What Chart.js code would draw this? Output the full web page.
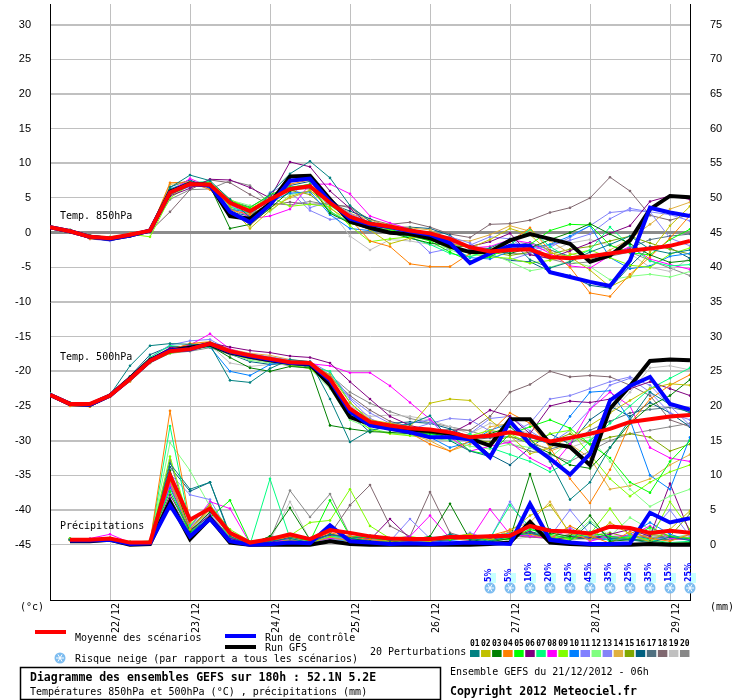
<!DOCTYPE html>
<html>
<head>
<meta charset="utf-8">
<title>Ensembles GEFS</title>
<script src="https://cdn.jsdelivr.net/npm/chart.js@4.4.0/dist/chart.umd.min.js"></script>
<style>
  body { margin: 0; background: #fff; }
</style>
</head>
<body>
<canvas id="gefsChart" width="740" height="700"></canvas>
<script>
// echeances (heures depuis le 21/12/2012 06h)
const hours = [0, 6, 12, 18, 24, 30, 36, 42, 48, 54, 60, 66, 72, 78, 84, 90, 96,
  102, 108, 114, 120, 126, 132, 138, 144, 150, 156, 162, 168, 174, 180, 186, 192];
const dayTicks = [18, 42, 66, 90, 114, 138, 162, 186];
const dayLabels = ['22/12', '23/12', '24/12', '25/12', '26/12', '27/12', '28/12', '29/12'];
const tempTicks = [-45, -40, -35, -30, -25, -20, -15, -10, -5, 0, 5, 10, 15, 20, 25, 30];
const precipTicks = [0, 5, 10, 15, 20, 25, 30, 35, 40, 45, 50, 55, 60, 65, 70, 75];

const memberColors = ['#008080', '#c0c000', '#008000', '#ff8000', '#00ff00', '#800080', '#00ff80',
  '#ff00ff', '#80ff00', '#0080ff', '#8080ff', '#80ff80', '#8484f8', '#e0b040', '#80a800',
  '#006080', '#507080', '#806870', '#c0c0c0', '#888888'];

// Temperature 850hPa
const t850Mean = [0.8, 0.2, -0.6, -0.8, -0.3, 0.3, 5.8, 7.0, 6.9, 4.3, 3.1, 4.8, 6.3, 6.7, 4.3, 2.3, 1.3,
  0.9, 0.3, -0.1, -0.9, -2.1, -2.7, -2.5, -2.4, -3.5, -3.7, -3.4, -3.0, -2.6, -2.3, -1.9, -1.2];
const t850Control = [0.8, 0.2, -0.6, -0.9, -0.4, 0.3, 5.8, 7.0, 6.8, 3.0, 1.5, 4.0, 7.5, 7.8, 4.5, 2.0, 1.2,
  0.8, 0.2, -0.3, -1.5, -4.4, -3.0, -1.9, -1.9, -5.7, -6.4, -7.1, -7.7, -4.0, 3.6, 2.9, 2.4];
const t850Gfs = [0.8, 0.2, -0.6, -0.9, -0.4, 0.3, 5.9, 7.1, 6.9, 2.4, 2.0, 4.2, 8.1, 8.2, 4.8, 1.6, 0.7,
  0.0, -0.2, -0.8, -2.0, -2.8, -2.8, -1.1, -0.2, -0.9, -1.6, -4.2, -3.3, -1.1, 3.4, 5.3, 5.1];
const t850Members = [
  [0.7, 0.1, -0.5, -0.9, -0.4, 0.5, 6.5, 8.3, 7.5, 4.8, 2.2, 5.6, 8.5, 10.3, 7.9, 3.9, 1.6, 0.8, 0.6, -0.3, -1.8, -3.0, -2.2, -1.0, -3.9, -5.1, -4.2, -2.8, -1.7, -0.5, -2.4, -3.0, -2.5],
  [0.9, 0.3, -0.7, -0.9, -0.2, 0.2, 5.5, 6.8, 7.2, 3.8, 0.6, 3.2, 5.2, 6.1, 3.5, 1.7, 0.4, -1.6, -0.8, -0.2, -1.5, -2.2, -1.0, 0.6, -0.3, -2.9, -3.5, -5.4, -7.8, -6.4, -2.8, 1.0, 3.8],
  [0.8, 0.4, -0.5, -0.7, -0.5, 0.4, 6.2, 7.1, 6.7, 0.6, 1.2, 3.5, 6.0, 6.8, 2.8, 1.4, 0.5, 0.0, -0.8, -1.5, -1.9, -2.0, -2.6, -3.0, -2.2, -1.0, 0.0, 1.3, -0.2, -1.6, -3.2, -4.3, -4.0],
  [0.8, 0.2, -0.9, -1.0, -0.1, 0.3, 7.2, 7.3, 6.2, 3.3, 2.6, 4.1, 7.0, 7.6, 4.8, 2.0, -1.2, -2.0, -4.5, -4.9, -4.9, -3.0, -2.4, -1.3, 0.7, -2.6, -5.0, -8.7, -9.2, -6.0, -3.5, -0.8, 2.5],
  [0.7, 0.3, -0.6, -0.7, -0.4, 0.1, 6.0, 7.0, 7.1, 4.5, 3.6, 5.5, 6.5, 7.0, 4.0, 2.0, 1.2, 0.5, -0.4, -1.2, -2.8, -4.1, -3.5, -2.0, -1.7, 0.3, 1.2, 1.1, -1.8, -2.9, -3.2, -1.0, 0.5],
  [0.8, 0.2, -0.6, -0.8, -0.3, 0.3, 5.3, 6.4, 7.7, 7.6, 6.5, 5.0, 10.2, 9.5, 6.0, 3.5, 1.0, 0.6, 0.4, -0.3, -1.0, -2.0, -1.3, -0.1, -3.2, -3.7, -2.6, -1.5, -0.1, 1.0, 4.5, 5.3, 4.8],
  [0.7, 0.3, -0.5, -0.8, -0.3, 0.2, 5.8, 7.2, 7.4, 3.7, 2.8, 5.0, 6.6, 6.9, 3.0, 1.5, 1.0, 0.2, -0.7, -1.7, -3.0, -3.5, -2.4, -1.8, 0.5, -2.0, -3.8, -2.5, 0.8, -1.9, -4.1, -4.8, -4.6],
  [0.8, 0.2, -0.6, -0.9, -0.3, 0.4, 5.9, 7.8, 6.6, 4.4, 2.0, 2.4, 3.4, 7.0, 7.0, 5.6, 2.4, 1.4, 0.5, -0.5, -1.4, -2.2, -2.0, -1.0, -1.5, -3.0, -4.8, -5.1, -3.3, -2.0, -3.8, -4.6, -5.3],
  [0.9, 0.3, -0.4, -0.6, -0.2, -0.6, 5.0, 6.9, 7.3, 4.8, 3.4, 5.2, 3.8, 4.1, 3.7, 1.0, -1.3, -0.9, -0.6, -1.0, -2.3, -3.0, -3.5, -3.7, -4.4, -4.0, -3.2, -2.5, -3.6, -4.7, -5.0, -3.1, -2.2],
  [0.7, 0.1, -0.7, -0.9, -0.4, 0.3, 6.3, 7.4, 6.5, 3.4, 2.9, 4.5, 5.7, 5.9, 2.6, 0.6, 0.3, 0.1, -0.4, -1.0, -2.1, -3.6, -3.8, -2.7, -2.2, -1.7, -0.5, 1.0, -3.6, -5.2, -4.8, -3.4, -3.0],
  [0.8, 0.2, -0.9, -1.2, -0.5, 0.2, 6.1, 6.7, 6.8, 4.0, 2.5, 5.8, 7.2, 3.6, 4.5, 2.7, 1.5, 0.6, -0.2, -2.9, -2.3, -1.8, -0.6, -0.9, -2.6, -1.8, -1.1, -0.2, 2.0, 3.5, 3.0, 2.6, 1.7],
  [0.8, 0.3, -0.5, -0.7, -0.2, 0.2, 5.6, 6.9, 7.0, 4.7, 3.9, 3.0, 5.5, 6.0, 3.9, 1.9, 1.6, 0.5, -0.2, -0.9, -2.5, -3.4, -3.0, -4.2, -5.5, -5.0, -4.1, -4.9, -6.8, -6.3, -6.0, -6.4, -5.6],
  [0.8, 0.2, -0.6, -0.8, -0.4, 0.3, 5.7, 6.6, 7.1, 3.5, 2.3, 4.2, 5.9, 3.2, 1.9, 2.2, 1.2, 0.9, 0.5, -0.4, -0.6, -1.5, -3.4, -3.9, -3.0, -2.1, -0.7, 1.0, 2.9, 3.2, 3.0, -0.8, -1.9],
  [0.9, 0.3, -0.5, -0.7, -0.3, 0.3, 7.0, 7.1, 6.9, 4.1, 1.0, 3.6, 5.0, 6.0, 4.6, 2.8, 1.8, 1.1, 0.7, 0.4, -1.0, -1.2, -0.3, 1.0, 0.2, -1.2, -3.0, -3.8, -2.5, -0.9, 1.2, 3.4, 4.4],
  [0.8, 0.2, -0.5, -0.8, -0.3, 0.4, 5.4, 6.8, 6.7, 4.2, 3.2, 4.6, 6.1, 5.5, 3.1, 1.3, 0.8, 0.4, -0.5, -1.1, -1.8, -2.7, -2.8, -3.3, -2.8, -3.1, -2.4, -2.0, -1.2, -0.5, -1.5, -2.4, -3.1],
  [0.7, 0.1, -0.6, -0.9, -0.4, 0.3, 6.6, 7.6, 6.4, 3.0, 2.4, 4.3, 6.8, 7.4, 4.2, 3.1, 2.0, 0.7, 0.8, 0.6, -0.4, -2.4, -3.2, -4.0, -4.2, -5.6, -6.2, -7.6, -8.0, -4.8, -2.0, -2.2, -3.7],
  [0.8, 0.2, -0.7, -0.8, -0.3, 0.2, 6.1, 7.0, 7.1, 4.6, 3.7, 5.3, 6.4, 6.3, 5.0, 2.5, 1.4, 0.9, 0.2, 0.0, -1.3, -1.9, -2.5, -2.1, -1.4, -2.5, -3.4, -3.8, -3.0, -2.2, -1.0, -0.5, -0.2],
  [0.8, 0.3, -0.6, -0.9, -0.5, 0.2, 3.0, 6.2, 7.6, 7.2, 5.5, 4.0, 4.4, 4.1, 4.2, 3.6, 1.9, 1.2, 1.5, 0.8, -0.2, -0.7, 1.2, 1.3, 1.8, 2.9, 3.6, 5.0, 8.0, 6.0, 2.5, 1.8, 2.6],
  [0.8, 0.2, -0.6, -0.8, -0.3, 0.3, 5.6, 6.8, 6.5, 4.0, 2.6, 5.1, 6.0, 6.5, 3.3, -0.5, -2.5, -1.0, -1.2, -1.7, -2.3, -2.4, -2.5, -0.9, -1.8, -2.7, -1.5, -1.0, -1.8, -3.0, -5.0, -5.6, -3.6],
  [0.8, 0.3, -0.5, -0.8, -0.4, 0.3, 4.8, 6.2, 6.3, 7.5, 6.8, 4.2, 4.0, 4.5, 4.0, 3.8, 1.1, 0.7, 0.1, -0.6, -1.6, -2.0, -2.3, -3.0, -3.1, -3.8, -4.5, -4.2, -3.4, -2.8, -4.0, -5.1, -6.2]
];

// Temperature 500hPa
const t500Mean = [-23.4, -24.7, -24.7, -23.5, -21.1, -18.5, -17.1, -16.8, -16.0, -17.1, -17.7, -18.2, -18.7,
  -18.8, -21.1, -25.4, -27.3, -27.8, -28.2, -28.4, -28.8, -29.5, -29.3, -28.8, -29.3, -30.1, -29.6, -29.0,
  -28.3, -27.3, -26.9, -26.5, -26.3];
const t500Control = [-23.4, -24.7, -24.8, -23.5, -21.1, -18.5, -17.0, -16.8, -16.0, -17.2, -17.8, -18.3, -18.8,
  -18.9, -21.3, -25.8, -27.8, -28.3, -28.8, -29.5, -29.5, -29.8, -32.4, -27.2, -30.5, -32.6, -34.9, -31.9,
  -24.2, -22.1, -20.8, -24.7, -25.5];
const t500Gfs = [-23.4, -24.7, -24.8, -23.5, -21.0, -18.4, -17.0, -16.6, -16.1, -17.3, -17.9, -18.4, -18.8,
  -19.0, -22.0, -26.6, -27.6, -28.2, -28.5, -28.6, -29.0, -29.7, -30.7, -26.9, -26.9, -30.4, -30.9, -33.5,
  -25.4, -22.1, -18.5, -18.3, -18.4];
const t500Members = [
  [-23.2, -24.6, -24.9, -23.4, -19.2, -16.3, -16.0, -16.1, -16.2, -21.3, -21.6, -19.6, -18.3, -18.6, -24.0, -30.2, -28.5, -28.0, -27.6, -26.4, -30.0, -31.5, -32.3, -27.5, -29.7, -33.0, -38.5, -36.0, -31.0, -27.0, -23.0, -24.8, -26.0],
  [-23.5, -24.8, -25.0, -23.6, -21.3, -18.4, -17.0, -16.6, -16.1, -17.3, -17.9, -18.1, -18.8, -19.0, -20.5, -24.5, -27.0, -27.5, -28.0, -24.6, -24.0, -24.2, -27.0, -29.3, -31.9, -31.0, -29.5, -27.8, -26.0, -24.2, -22.5, -21.8, -22.0],
  [-23.3, -24.6, -24.8, -23.5, -21.0, -18.6, -17.2, -16.9, -16.3, -18.0, -19.5, -20.0, -19.3, -19.5, -27.8, -28.3, -28.7, -28.8, -29.0, -28.9, -29.5, -30.0, -29.0, -28.0, -30.5, -31.8, -33.5, -34.0, -31.0, -27.5, -25.0, -23.5, -21.2],
  [-23.6, -25.0, -25.1, -23.7, -21.4, -18.3, -16.9, -16.0, -15.8, -17.0, -17.6, -18.0, -18.5, -18.7, -21.0, -25.5, -27.5, -28.3, -28.9, -30.5, -31.5, -30.0, -28.8, -26.0, -27.5, -31.0, -35.5, -39.0, -34.2, -27.5, -24.0, -22.0, -20.5],
  [-23.4, -24.7, -24.8, -23.5, -21.2, -18.7, -17.3, -16.5, -16.0, -17.2, -17.8, -18.4, -19.0, -19.2, -21.5, -26.5, -27.8, -28.4, -28.7, -29.2, -29.0, -31.5, -32.0, -29.0, -28.0, -27.0, -28.2, -30.5, -32.5, -36.0, -37.5, -33.0, -30.0],
  [-23.3, -24.6, -24.7, -23.4, -21.0, -18.2, -16.6, -16.3, -15.9, -16.5, -17.0, -17.3, -17.8, -18.0, -18.8, -21.5, -24.0, -26.5, -27.8, -28.5, -29.0, -27.5, -25.6, -26.5, -29.0, -25.0, -24.3, -24.5, -24.0, -22.5, -21.5, -22.5, -23.5],
  [-23.2, -24.5, -24.7, -23.3, -20.8, -18.0, -16.3, -16.5, -16.2, -17.3, -18.0, -18.3, -18.8, -19.3, -20.0, -24.5, -27.2, -28.1, -28.6, -29.0, -29.8, -29.0, -31.0, -32.0, -33.0, -34.5, -33.0, -30.0, -27.5, -25.0, -22.5, -21.0, -19.5],
  [-23.4, -24.7, -24.8, -23.6, -21.1, -18.5, -17.0, -16.2, -14.6, -16.8, -17.6, -18.1, -18.6, -18.9, -19.2, -20.2, -20.2, -22.1, -24.5, -26.9, -29.5, -31.5, -30.8, -30.2, -32.5, -34.0, -30.5, -25.5, -23.0, -25.0, -31.0, -32.5, -33.0],
  [-23.5, -24.8, -25.0, -23.5, -21.2, -18.6, -17.4, -16.9, -16.4, -17.4, -18.0, -18.5, -19.1, -19.6, -22.0, -26.0, -28.4, -29.0, -29.3, -29.5, -29.7, -29.3, -28.5, -29.0, -30.5, -29.0, -28.5, -32.0, -35.5, -38.0, -36.0, -34.5, -33.5],
  [-23.3, -24.7, -24.9, -23.5, -20.9, -18.2, -17.0, -16.7, -16.5, -20.0, -20.6, -19.0, -18.5, -18.9, -21.8, -25.8, -27.6, -28.4, -28.7, -29.5, -31.0, -30.2, -28.5, -27.5, -29.5, -30.5, -26.5, -23.0, -22.8, -27.0, -35.0, -37.0, -29.5],
  [-23.4, -24.6, -24.8, -23.5, -21.0, -18.0, -16.2, -15.6, -15.4, -17.0, -17.5, -18.0, -18.6, -18.8, -20.5, -24.0, -26.8, -28.0, -27.5, -27.0, -30.0, -29.0, -26.8, -26.5, -28.6, -30.4, -28.5, -25.5, -22.0, -21.0, -23.0, -26.0, -27.0],
  [-23.4, -24.7, -24.9, -23.6, -21.3, -18.6, -17.2, -16.9, -16.3, -17.5, -18.4, -18.8, -19.0, -19.6, -22.5, -27.0, -28.2, -28.9, -29.2, -29.6, -30.0, -30.8, -31.2, -30.5, -31.0, -32.5, -30.0, -29.5, -33.0, -37.0, -39.5, -38.0, -37.0],
  [-23.3, -24.6, -24.8, -23.4, -20.9, -18.3, -16.8, -16.4, -16.1, -16.9, -17.5, -17.9, -18.4, -18.6, -20.2, -23.8, -26.0, -27.5, -28.4, -27.5, -26.8, -27.0, -28.6, -29.0, -27.5, -24.0, -23.5, -22.5, -21.5, -20.8, -22.0, -25.0, -27.8],
  [-23.5, -24.9, -25.1, -23.6, -21.5, -18.8, -17.0, -16.0, -15.7, -16.8, -17.4, -17.7, -18.3, -18.7, -21.2, -25.5, -27.7, -28.5, -29.0, -30.0, -31.5, -30.5, -28.0, -27.5, -30.0, -31.5, -30.5, -32.5, -37.0, -36.5, -35.5, -33.5, -32.0],
  [-23.4, -24.7, -24.9, -23.5, -21.2, -18.6, -17.2, -16.8, -16.2, -17.2, -17.9, -18.4, -18.9, -19.1, -21.4, -25.8, -27.8, -28.2, -28.6, -28.8, -29.2, -29.8, -30.2, -29.4, -30.0, -30.2, -29.0, -30.5, -29.5, -29.0, -29.5, -31.5, -30.5],
  [-23.2, -24.6, -24.8, -23.4, -20.7, -17.6, -16.4, -16.5, -16.5, -17.5, -18.6, -19.0, -18.8, -19.0, -21.6, -26.2, -28.8, -27.5, -27.3, -27.5, -28.3, -29.5, -32.0, -33.5, -31.0, -29.0, -30.5, -27.0, -25.0, -26.5, -24.5, -26.0, -28.0],
  [-23.4, -24.7, -24.9, -23.6, -21.1, -18.4, -17.1, -16.8, -16.1, -17.3, -17.9, -18.3, -19.0, -19.4, -21.3, -25.4, -27.6, -28.1, -28.4, -28.9, -29.2, -29.9, -29.6, -29.4, -30.4, -31.2, -30.5, -28.5, -27.2, -26.0, -25.5, -25.2, -25.8],
  [-23.4, -24.7, -24.9, -23.5, -21.2, -18.5, -17.3, -17.0, -16.3, -17.1, -17.6, -18.0, -18.4, -18.9, -20.8, -23.5, -25.6, -27.2, -28.0, -28.5, -28.4, -28.5, -26.5, -23.0, -21.9, -20.0, -20.8, -20.6, -20.8, -22.0, -23.5, -27.0, -28.0],
  [-23.3, -24.6, -24.8, -23.4, -21.0, -18.3, -16.9, -16.5, -16.2, -18.8, -19.3, -19.0, -18.9, -19.2, -21.0, -25.0, -26.5, -26.3, -26.5, -27.0, -28.0, -29.0, -27.5, -28.0, -29.0, -30.0, -31.0, -30.0, -26.0, -23.0, -19.5, -19.2, -19.8],
  [-23.5, -24.8, -25.0, -23.6, -21.4, -18.8, -17.4, -17.1, -16.6, -17.6, -18.2, -18.7, -19.2, -19.6, -20.5, -23.0, -24.6, -25.8, -26.8, -27.4, -28.0, -28.6, -29.5, -30.5, -31.5, -32.0, -33.0, -31.5, -30.0, -29.0, -28.5, -28.0, -27.5]
];

// Precipitations (mm)
const precipMean = [null, 0.7, 0.7, 0.9, 0.3, 0.3, 10.0, 3.6, 5.2, 1.7, 0.3, 0.8, 1.5, 0.8, 2.1, 1.7, 1.2,
  0.9, 0.8, 0.8, 1.1, 1.1, 1.2, 1.3, 2.7, 2.0, 1.9, 1.6, 2.6, 2.4, 1.7, 2.0, 1.7];
const precipControl = [null, 0.6, 0.6, 0.7, 0.1, 0.2, 5.7, 1.2, 3.7, 0.5, 0.0, 0.1, 0.3, 0.2, 2.8, 0.5, 0.3,
  0.1, 0.2, 0.1, 0.2, 0.3, 0.2, 0.1, 5.9, 0.7, 0.3, 0.1, 0.1, 0.2, 4.6, 3.2, 3.8];
const precipGfs = [null, 0.5, 0.5, 0.7, 0.0, 0.1, 6.2, 0.8, 3.8, 0.3, 0.0, 0.0, 0.0, 0.0, 0.5, 0.1, 0.0,
  0.0, 0.0, 0.0, 0.0, 0.0, 0.1, 0.3, 3.3, 0.3, 0.1, 0.0, 0.0, 0.0, 0.1, 0.0, 0.0];
const precipMembers = [
  [null, 0.7, 0.6, 0.9, 0.2, 0.3, 11.7, 8.0, 9.0, 1.2, 0.0, 0.5, 0.9, 0.3, 1.5, 0.9, 1.3, 0.6, 1.0, 0.7, 1.5, 0.9, 0.5, 1.2, 1.7, 1.0, 0.5, 3.2, 0.9, 0.7, 0.3, 1.1, 0.6],
  [null, 0.8, 0.7, 1.0, 0.3, 0.2, 9.2, 2.2, 5.2, 1.5, 0.0, 0.2, 0.7, 0.3, 1.1, 0.5, 0.3, 0.7, 0.2, 0.5, 1.2, 1.5, 0.7, 1.9, 4.2, 5.7, 1.7, 0.7, 3.2, 1.5, 0.4, 2.2, 4.9],
  [null, 0.7, 0.7, 0.8, 0.3, 0.4, 10.7, 1.9, 4.7, 1.7, 0.1, 1.2, 5.3, 0.7, 2.2, 0.9, 0.5, 0.3, 0.7, 1.2, 5.9, 0.7, 0.4, 0.9, 10.2, 1.7, 1.2, 4.2, 0.5, 0.7, 0.5, 0.2, 0.3],
  [null, 0.6, 0.7, 0.9, 0.3, 0.3, 19.3, 3.2, 5.7, 1.2, 0.1, 0.5, 1.2, 0.7, 1.7, 1.2, 0.7, 0.5, 0.4, 0.7, 0.9, 0.6, 1.3, 2.1, 1.5, 0.9, 2.7, 1.3, 0.2, 1.9, 0.9, 0.5, 1.5],
  [null, 0.9, 0.8, 1.0, 0.4, 0.5, 7.7, 1.7, 3.9, 6.4, 0.3, 0.7, 1.2, 0.5, 6.4, 1.2, 1.0, 0.5, 0.9, 0.7, 0.7, 1.3, 0.6, 0.8, 2.2, 1.5, 0.9, 1.7, 1.2, 0.9, 2.5, 1.2, 0.9],
  [null, 0.7, 0.7, 0.8, 0.3, 0.3, 7.2, 2.1, 4.2, 0.9, 0.2, 0.3, 1.1, 0.6, 1.4, 1.2, 0.7, 3.7, 0.9, 0.5, 0.7, 1.0, 0.8, 1.2, 1.9, 0.6, 1.2, 0.9, 1.5, 2.2, 1.2, 8.8, 1.7],
  [null, 0.7, 0.6, 0.7, 0.2, 0.3, 17.1, 2.7, 5.9, 0.7, 0.0, 9.5, 0.9, 0.2, 1.2, 1.0, 0.5, 0.4, 0.7, 0.6, 1.1, 0.7, 0.9, 5.7, 2.5, 0.7, 1.2, 1.9, 0.5, 1.3, 0.7, 0.3, 0.5],
  [null, 0.8, 0.9, 1.5, 0.3, 0.4, 8.7, 2.5, 6.2, 5.2, 0.2, 0.5, 0.7, 0.4, 0.9, 0.7, 1.0, 0.8, 1.2, 4.2, 0.9, 0.7, 5.1, 1.5, 1.2, 0.9, 2.2, 0.5, 1.2, 1.3, 2.7, 0.9, 0.7],
  [null, 0.9, 0.7, 0.9, 0.4, 0.5, 12.7, 2.9, 5.7, 2.2, 0.5, 0.9, 1.3, 3.2, 3.5, 8.0, 2.7, 0.9, 1.2, 0.7, 1.0, 1.5, 0.7, 0.9, 1.7, 1.2, 0.7, 1.5, 5.2, 1.2, 0.7, 6.2, 2.2],
  [null, 0.7, 0.7, 0.8, 0.2, 0.3, 8.2, 1.7, 4.2, 1.0, 0.0, 0.3, 0.5, 0.2, 0.7, 0.6, 0.4, 0.2, 0.5, 0.3, 0.6, 0.9, 1.2, 1.7, 1.3, 2.2, 1.7, 1.0, 0.7, 1.5, 3.2, 1.5, 0.6],
  [null, 0.7, 0.8, 0.9, 0.3, 0.3, 10.2, 7.2, 6.5, 1.5, 0.1, 0.6, 1.5, 0.5, 1.2, 0.9, 0.7, 0.5, 3.7, 0.9, 0.7, 1.3, 0.9, 6.2, 1.7, 1.2, 5.0, 1.5, 0.9, 0.7, 1.7, 5.0, 1.2],
  [null, 0.7, 0.7, 0.9, 0.3, 0.4, 14.7, 10.7, 5.5, 1.9, 0.2, 0.7, 1.2, 0.5, 1.3, 1.0, 0.6, 0.4, 0.6, 0.9, 1.1, 0.7, 0.8, 1.2, 2.2, 1.3, 0.9, 3.5, 1.2, 3.9, 2.2, 0.9, 1.5],
  [null, 0.7, 0.7, 0.8, 0.2, 0.3, 9.5, 2.0, 4.5, 0.7, 0.0, 0.4, 0.9, 0.3, 1.0, 0.7, 0.5, 0.3, 0.6, 0.4, 0.8, 1.7, 0.7, 1.0, 1.5, 0.9, 2.5, 0.7, 0.9, 1.2, 0.7, 1.1, 1.3],
  [null, 0.8, 0.7, 0.9, 0.3, 0.4, 9.7, 2.3, 4.9, 1.3, 0.1, 0.5, 1.0, 0.4, 1.2, 0.9, 0.7, 0.6, 0.9, 0.7, 1.2, 0.9, 0.7, 2.2, 3.2, 6.2, 1.5, 1.0, 0.7, 1.1, 1.9, 1.3, 1.0],
  [null, 0.7, 0.7, 0.8, 0.3, 0.3, 8.5, 1.8, 4.3, 1.1, 0.1, 0.4, 0.7, 0.4, 0.9, 0.7, 0.6, 0.4, 0.7, 0.6, 0.9, 1.2, 1.0, 1.5, 1.2, 1.0, 0.9, 1.3, 1.7, 1.0, 1.5, 1.2, 4.5],
  [null, 0.7, 0.7, 0.8, 0.2, 0.3, 11.2, 7.7, 9.0, 1.5, 0.1, 0.9, 1.1, 0.5, 1.5, 1.1, 0.9, 0.7, 0.9, 1.0, 1.2, 1.1, 0.9, 1.3, 1.9, 1.2, 1.0, 0.9, 1.2, 0.7, 0.9, 1.1, 0.8],
  [null, 0.8, 0.7, 0.9, 0.3, 0.3, 6.7, 1.7, 3.7, 0.9, 0.0, 1.2, 1.2, 0.5, 1.3, 0.8, 0.9, 0.6, 0.8, 1.1, 0.9, 0.7, 0.9, 1.1, 1.5, 1.3, 0.8, 1.0, 0.7, 1.3, 0.9, 0.7, 1.0],
  [null, 0.7, 0.7, 0.9, 0.3, 0.3, 12.2, 2.5, 5.2, 1.2, 0.1, 0.7, 1.3, 0.7, 1.5, 5.7, 8.6, 2.7, 1.2, 7.6, 1.7, 0.9, 1.1, 1.3, 1.1, 0.9, 1.5, 1.2, 1.0, 0.9, 1.3, 1.1, 0.9],
  [null, 0.7, 0.7, 0.8, 0.3, 0.3, 10.7, 2.3, 4.7, 0.9, 0.1, 0.6, 6.2, 0.7, 1.2, 0.7, 0.5, 0.3, 0.6, 0.5, 0.7, 0.9, 0.7, 0.8, 1.1, 0.9, 0.7, 0.8, 1.0, 0.7, 0.9, 0.7, 0.8],
  [null, 0.7, 0.7, 0.8, 0.3, 0.3, 8.9, 2.1, 5.5, 1.1, 0.0, 0.7, 7.8, 4.0, 7.3, 1.3, 0.8, 0.6, 1.0, 0.7, 0.9, 0.8, 1.0, 1.2, 1.5, 1.1, 1.3, 0.9, 0.7, 1.2, 1.0, 0.8, 0.9]
];

// Risque neige (%)
const snowHours = [132, 138, 144, 150, 156, 162, 168, 174, 180, 186, 192];
const snowRisk = [5, 5, 10, 20, 25, 45, 35, 25, 35, 15, 25];

const MONO = "'DejaVu Sans Mono', monospace";

function series(values) {
  return values.map((v, i) => ({ x: hours[i], y: v }));
}

const datasets = [];
function addGroup(members, control, gfs, mean, axis) {
  members.forEach((m, k) => {
    datasets.push({
      data: series(m), yAxisID: axis,
      borderColor: memberColors[k], backgroundColor: memberColors[k],
      borderWidth: 1, pointRadius: 1.3, pointBorderWidth: 0, order: 3
    });
  });
  datasets.push({ data: series(gfs), yAxisID: axis, borderColor: '#000000', borderWidth: 4, pointRadius: 0, order: 2 });
  datasets.push({ data: series(control), yAxisID: axis, borderColor: '#0000ff', borderWidth: 4, pointRadius: 0, order: 1 });
  datasets.push({ data: series(mean), yAxisID: axis, borderColor: '#ff0000', borderWidth: 4, pointRadius: 0, order: 0 });
}
addGroup(t850Members, t850Control, t850Gfs, t850Mean, 'y');
addGroup(t500Members, t500Control, t500Gfs, t500Mean, 'y');
addGroup(precipMembers, precipControl, precipGfs, precipMean, 'y2');

function drawFlake(ctx, x, y) {
  ctx.save();
  ctx.fillStyle = '#7cbcf0';
  ctx.beginPath();
  ctx.arc(x, y, 5.5, 0, Math.PI * 2);
  ctx.fill();
  ctx.strokeStyle = '#ffffff';
  ctx.lineWidth = 1;
  for (let a = 0; a < 3; a++) {
    const ang = a * Math.PI / 3;
    ctx.beginPath();
    ctx.moveTo(x - Math.cos(ang) * 4, y - Math.sin(ang) * 4);
    ctx.lineTo(x + Math.cos(ang) * 4, y + Math.sin(ang) * 4);
    ctx.stroke();
  }
  ctx.restore();
}

const decorations = {
  id: 'decorations',
  beforeDatasetsDraw(chart) {
    const ctx = chart.ctx;
    ctx.save();
    ctx.font = '10px ' + MONO;
    ctx.fillStyle = '#000';
    ctx.textBaseline = 'middle';
    ctx.fillText('Temp. 850hPa', 60, 216);
    ctx.fillText('Temp. 500hPa', 60, 357);
    ctx.fillText('Précipitations', 60, 526);
    ctx.restore();
  },
  afterDraw(chart) {
    const ctx = chart.ctx;
    const xs = chart.scales.x;
    ctx.save();

    // risque neige
    snowHours.forEach((h, k) => {
      const x = xs.getPixelForValue(h);
      ctx.fillStyle = '#c8ffff';
      ctx.fillRect(x, 573, 6, 10);
      ctx.save();
      ctx.translate(x - 1.5, 582);
      ctx.rotate(-Math.PI / 2);
      ctx.fillStyle = '#0000ff';
      ctx.font = 'bold 8px "DejaVu Sans"';
      ctx.textBaseline = 'middle';
      ctx.textAlign = 'left';
      ctx.fillText(snowRisk[k] + '%', 0, 0);
      ctx.restore();
      drawFlake(ctx, x, 588);
    });

    ctx.fillStyle = '#000';
    ctx.textBaseline = 'middle';
    ctx.font = '10px ' + MONO;
    ctx.fillText('(°c)', 20, 607);
    ctx.fillText('(mm)', 710, 607);

    // legende
    ctx.fillStyle = '#ff0000';
    ctx.fillRect(35, 630, 31, 4);
    ctx.fillStyle = '#0000ff';
    ctx.fillRect(225, 634, 31, 4);
    ctx.fillStyle = '#000000';
    ctx.fillRect(225, 645, 31, 4);
    ctx.fillText('Moyenne des scénarios', 75, 638);
    ctx.fillText('Run de contrôle', 265, 638);
    ctx.fillText('Run GFS', 265, 648);
    drawFlake(ctx, 60, 658);
    ctx.fillStyle = '#000';
    ctx.fillText('Risque neige (par rapport a tous les scénarios)', 75, 659);
    ctx.fillText('20 Perturbations', 370, 652);

    memberColors.forEach((c, k) => {
      const bx = 470 + k * 11.05;
      ctx.fillStyle = c;
      ctx.fillRect(bx, 650, 9.5, 7);
      ctx.fillStyle = '#000';
      ctx.font = 'bold 8px ' + MONO;
      ctx.textAlign = 'center';
      ctx.fillText(String(k + 1).padStart(2, '0'), bx + 4.75, 644);
    });
    ctx.textAlign = 'left';

    ctx.font = '10px ' + MONO;
    ctx.fillText('Ensemble GEFS du 21/12/2012 - 06h', 450, 672);
    ctx.font = 'bold 11.5px ' + MONO;
    ctx.fillText('Copyright 2012 Meteociel.fr', 450, 692);

    // cadre du titre
    ctx.lineWidth = 1.5;
    ctx.strokeStyle = '#000';
    ctx.strokeRect(20.5, 667.5, 420, 32);
    ctx.font = 'bold 11.5px ' + MONO;
    ctx.fillText('Diagramme des ensembles GEFS sur 180h : 52.1N 5.2E', 30, 678);
    ctx.font = '10px ' + MONO;
    ctx.fillText('Températures 850hPa et 500hPa (°C) , précipitations (mm)', 30, 692);
    ctx.restore();
  }
};

new Chart(document.getElementById('gefsChart').getContext('2d'), {
  type: 'line',
  data: { datasets: datasets },
  plugins: [decorations],
  options: {
    responsive: false,
    animation: false,
    layout: { padding: 0 },
    elements: { line: { tension: 0 } },
    plugins: { legend: { display: false }, tooltip: { enabled: false } },
    scales: {
      x: {
        type: 'linear', min: 0, max: 192,
        afterBuildTicks: s => { s.ticks = dayTicks.map(v => ({ value: v })); },
        afterFit: s => { s.height = 100; s.paddingLeft = 0; s.paddingRight = 0; },
        grid: { color: '#c0c0c0', lineWidth: 1, drawTicks: false },
        border: { color: '#000', width: 1 },
        ticks: {
          autoSkip: false, minRotation: 90, maxRotation: 90, padding: 3, labelOffset: 6,
          color: '#000', font: { family: MONO, size: 10 },
          callback: v => dayLabels[dayTicks.indexOf(v)]
        }
      },
      y: {
        position: 'left', min: -52.98, max: 32.98,
        afterBuildTicks: s => { s.ticks = tempTicks.map(v => ({ value: v })); },
        afterFit: s => { s.width = 50; s.paddingTop = 0; s.paddingBottom = 0; },
        grid: {
          drawTicks: false,
          color: c => (c.tick && c.tick.value === 0) ? '#8c8c8c' : '#c0c0c0',
          lineWidth: c => {
            const v = c.tick ? c.tick.value : 1;
            return v === 0 ? 3 : (v % 10 === 0 ? 2 : 1);
          }
        },
        border: { color: '#000', width: 1 },
        ticks: { padding: 19, color: '#000', font: { family: "'Liberation Sans', Arial", size: 11 } }
      },
      y2: {
        position: 'right', min: -7.98, max: 77.98,
        afterBuildTicks: s => { s.ticks = precipTicks.map(v => ({ value: v })); },
        afterFit: s => { s.width = 50; s.paddingTop = 0; s.paddingBottom = 0; },
        grid: { display: false, drawTicks: false },
        border: { color: '#000', width: 1 },
        ticks: { padding: 20, color: '#000', font: { family: "'Liberation Sans', Arial", size: 11 } }
      }
    }
  }
});
</script>
</body>
</html>
